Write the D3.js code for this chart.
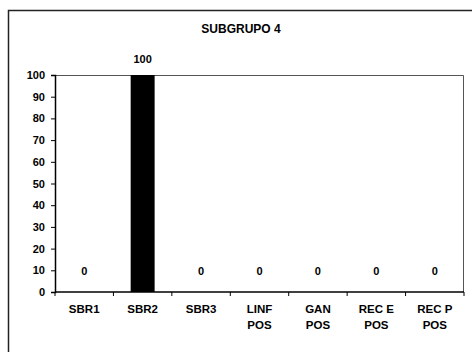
<!DOCTYPE html>
<html><head><meta charset="utf-8">
<script src="https://cdn.jsdelivr.net/npm/d3@7"></script>
<style>
html,body{margin:0;padding:0;background:#fff;}
svg{display:block;font-family:"Liberation Sans",Arial,sans-serif;font-weight:bold;}
</style></head><body>
<svg id="c" width="472" height="352"></svg>
<script>
const title = "SUBGRUPO 4";
const categories = [["SBR1"],["SBR2"],["SBR3"],["LINF","POS"],["GAN","POS"],["REC E","POS"],["REC P","POS"]];
const values = [0,100,0,0,0,0,0];
const yTicks = [0,10,20,30,40,50,60,70,80,90,100];

const svg = d3.select("#c");
const L=55, R=464, T=75, B=292;
const x = d3.scaleBand().domain(categories.map((d,i)=>i)).range([L,R]).paddingInner(0.59).paddingOuter(0.295);
const xb = d3.scaleBand().domain(categories.map((d,i)=>i)).range([L,R]);
const y = d3.scaleLinear().domain([0,100]).range([B,T]);

// outer frame
svg.append("path").attr("d",`M8.5,352 V10.5 H472`).attr("fill","none").attr("stroke","#222").attr("stroke-width",1.5);

// title
svg.append("text").attr("x",241).attr("y",33).attr("text-anchor","middle").attr("font-size",12).text(title);

// plot border top/right
svg.append("path").attr("d",`M${L},${T+0.5} H${R-0.5} V${B}`).attr("fill","none").attr("stroke","#555").attr("stroke-width",1);

// bars
svg.selectAll("rect.bar").data(values).enter().append("rect")
  .attr("x",(d,i)=>x(i)).attr("width",x.bandwidth())
  .attr("y",d=>y(d)).attr("height",d=>B-y(d)).attr("fill","#000");

// y axis
const ya = svg.append("g").attr("transform",`translate(${L},0)`)
  .call(d3.axisLeft(y).tickValues(yTicks).tickSize(4).tickPadding(6));
ya.select(".domain").attr("stroke","#000").attr("stroke-width",1.5);
ya.selectAll(".tick line").attr("stroke","#000");
ya.selectAll("text").attr("font-size",11).attr("font-weight","bold").attr("fill","#000").attr("font-family","Liberation Sans, Arial, sans-serif");

// x axis
const xa = svg.append("g").attr("transform",`translate(0,${B})`);
xa.append("line").attr("x1",L).attr("x2",R).attr("stroke","#000").attr("stroke-width",1.5);
xa.selectAll("line.t").data(d3.range(categories.length+1)).enter().append("line")
  .attr("x1",i=>L+i*xb.step()).attr("x2",i=>L+i*xb.step()).attr("y1",0).attr("y2",4).attr("stroke","#000");
const xl = xa.selectAll("text.cat").data(categories).enter().append("text")
  .attr("text-anchor","middle").attr("font-size",11.5)
  .attr("transform",(d,i)=>`translate(${xb(i)+xb.bandwidth()/2},0)`);
xl.selectAll("tspan").data(d=>d).enter().append("tspan")
  .attr("x",0).attr("y",(d,j)=>21+j*16).text(d=>d);

// value labels
svg.selectAll("text.val").data(values).enter().append("text")
  .attr("text-anchor","middle").attr("font-size",11)
  .attr("x",(d,i)=>xb(i)+xb.bandwidth()/2)
  .attr("y",d=> d>=10 ? y(d)-12 : y(10)+5)
  .text(d=>d);
</script>
</body></html>
